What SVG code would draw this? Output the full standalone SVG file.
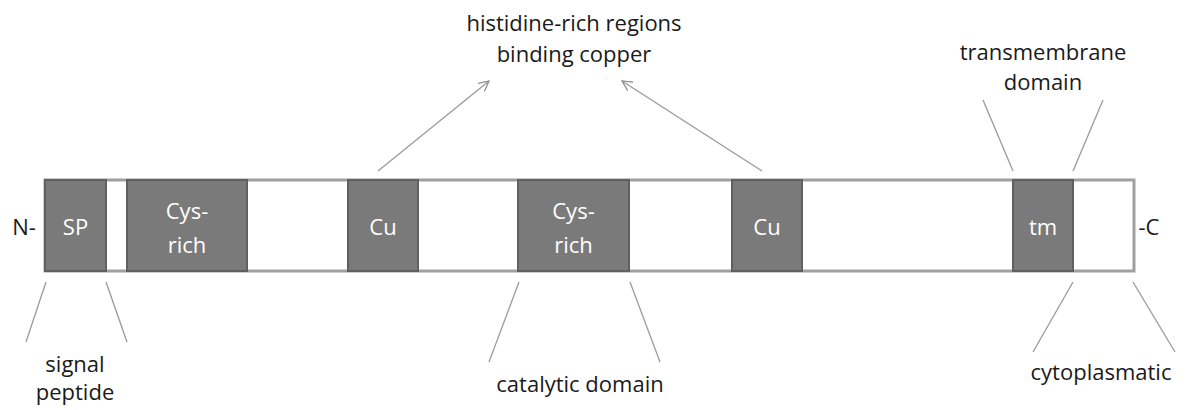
<svg xmlns="http://www.w3.org/2000/svg" width="1188" height="410" viewBox="0 0 1188 410">
<defs>
<style>
text{font-family:"Open Sans",Lato,"Liberation Sans",sans-serif;font-size:22px;text-anchor:middle;fill:#1a1a1a}
.in{fill:#ffffff}
.dom{fill:#7a7a7a;stroke:#606060;stroke-width:2}
.bar{fill:#ffffff;stroke:#a0a0a0;stroke-width:3}
.ln{stroke:#9a9a9a;stroke-width:1.3;fill:none}
</style>
<marker id="ah" viewBox="0 0 12 12" refX="11" refY="6" markerWidth="12" markerHeight="12" markerUnits="userSpaceOnUse" orient="auto">
<path d="M1,1 L11,6 L1,11" fill="none" stroke="#8a8a8a" stroke-width="1.2"/>
</marker>
</defs>
<rect width="1188" height="410" fill="#ffffff"/>
<g id="protein">
<rect class="bar" x="45" y="180" width="1089" height="91"/>
</g>
<g id="sp"><rect class="dom" x="45" y="180" width="61" height="91"/><text class="in" x="75.5" y="235">SP</text></g>
<g id="cys1"><rect class="dom" x="127" y="180" width="120" height="91"/><text class="in" x="187" y="219">Cys-</text><text class="in" x="187" y="253">rich</text></g>
<g id="cu1"><rect class="dom" x="348" y="180" width="70" height="91"/><text class="in" x="383" y="235">Cu</text></g>
<g id="cys2"><rect class="dom" x="518" y="180" width="111" height="91"/><text class="in" x="573.5" y="219">Cys-</text><text class="in" x="573.5" y="253">rich</text></g>
<g id="cu2"><rect class="dom" x="732" y="180" width="70" height="91"/><text class="in" x="767" y="235">Cu</text></g>
<g id="tm"><rect class="dom" x="1013" y="180" width="60" height="91"/><text class="in" x="1043" y="235">tm</text></g>
<g id="nterm"><text x="24" y="235">N-</text></g>
<g id="cterm"><text x="1149" y="235">-C</text></g>
<g id="label-his"><text x="574" y="31">histidine-rich regions</text><text x="574" y="62">binding copper</text></g>
<g id="label-tm"><text x="1043" y="60">transmembrane</text><text x="1043" y="90">domain</text></g>
<g id="label-sp"><text x="75" y="372">signal</text><text x="75" y="400">peptide</text></g>
<g id="label-cat"><text x="580" y="392">catalytic domain</text></g>
<g id="label-cyto"><text x="1101" y="380">cytoplasmatic</text></g>
<g id="connectors">
<line class="ln" x1="378" y1="171" x2="489" y2="81" marker-end="url(#ah)"/>
<line class="ln" x1="762" y1="171" x2="622" y2="81" marker-end="url(#ah)"/>
<line class="ln" x1="1013" y1="171" x2="983" y2="100"/>
<line class="ln" x1="1073" y1="171" x2="1103" y2="100"/>
<line class="ln" x1="46" y1="282" x2="26" y2="342"/>
<line class="ln" x1="106" y1="282" x2="127" y2="342"/>
<line class="ln" x1="519" y1="282" x2="489" y2="362"/>
<line class="ln" x1="630" y1="282" x2="660" y2="362"/>
<line class="ln" x1="1073" y1="282" x2="1033" y2="352"/>
<line class="ln" x1="1133" y1="282" x2="1175" y2="352"/>
</g>
</svg>
